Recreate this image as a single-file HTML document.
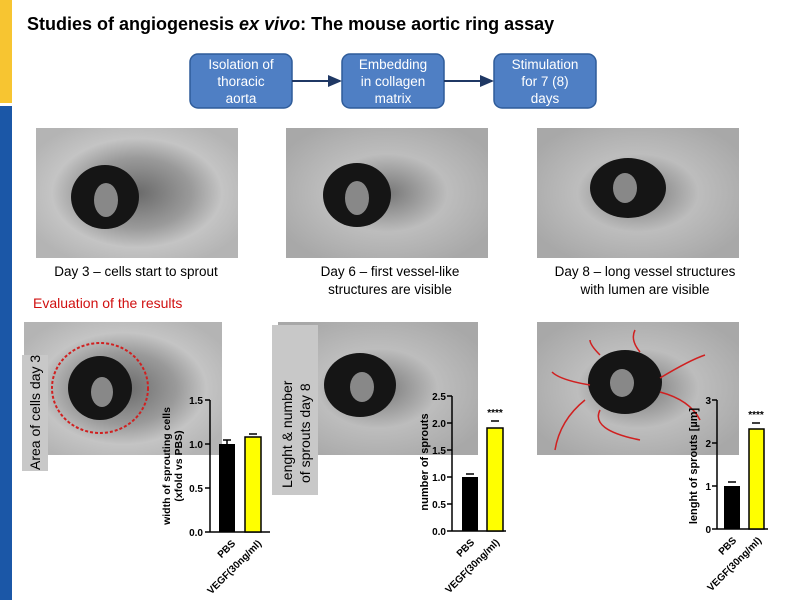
<!DOCTYPE html><html><head><style>body{margin:0}svg{display:block}text{font-family:"Liberation Sans",sans-serif}</style></head><body>
<svg width="800" height="600" xmlns="http://www.w3.org/2000/svg">
<defs>
<radialGradient id="ph" cx="50%" cy="50%" r="60%"><stop offset="0" stop-color="#6a6a6a"/><stop offset="0.45" stop-color="#9a9a9a"/><stop offset="0.7" stop-color="#c4c4c4"/><stop offset="1" stop-color="#b4b4b4"/></radialGradient>
<radialGradient id="ph2" cx="50%" cy="50%" r="60%"><stop offset="0" stop-color="#777"/><stop offset="0.5" stop-color="#bdbdbd"/><stop offset="1" stop-color="#a8a8a8"/></radialGradient>
<marker id="ar" markerWidth="8" markerHeight="8" refX="6" refY="4" orient="auto"><path d="M0,1L7,4L0,7z" fill="#1f3864"/></marker>
</defs>
<rect width="800" height="600" fill="#fff"/>
<rect x="0" y="0" width="12" height="103" fill="#f7c531"/>
<rect x="0" y="106" width="12" height="494" fill="#1b57a7"/>
<text x="27" y="30" font-size="18" font-weight="bold">Studies of angiogenesis <tspan font-style="italic">ex vivo</tspan>: The mouse aortic ring assay</text>
<g font-size="13.5" fill="#fff" text-anchor="middle">
<rect x="190" y="54" width="102" height="54" rx="8" fill="#4f7fc4" stroke="#2f5c9a" stroke-width="1.5"/>
<text x="241" y="69">Isolation of</text><text x="241" y="86">thoracic</text><text x="241" y="103">aorta</text>
<rect x="342" y="54" width="102" height="54" rx="8" fill="#4f7fc4" stroke="#2f5c9a" stroke-width="1.5"/>
<text x="393" y="69">Embedding</text><text x="393" y="86">in collagen</text><text x="393" y="103">matrix</text>
<rect x="494" y="54" width="102" height="54" rx="8" fill="#4f7fc4" stroke="#2f5c9a" stroke-width="1.5"/>
<text x="545" y="69">Stimulation</text><text x="545" y="86">for 7 (8)</text><text x="545" y="103">days</text>
</g>
<line x1="292" y1="81" x2="340" y2="81" stroke="#1f3864" stroke-width="2" marker-end="url(#ar)"/>
<line x1="444" y1="81" x2="492" y2="81" stroke="#1f3864" stroke-width="2" marker-end="url(#ar)"/>
<g>
<rect x="36" y="128" width="202" height="130" fill="url(#ph)"/><ellipse cx="105" cy="197" rx="34" ry="32" fill="#151515"/><ellipse cx="106" cy="200" rx="12" ry="17" fill="#888"/>
<rect x="286" y="128" width="202" height="130" fill="url(#ph2)"/><ellipse cx="357" cy="195" rx="34" ry="32" fill="#151515"/><ellipse cx="357" cy="198" rx="12" ry="17" fill="#888"/>
<rect x="537" y="128" width="202" height="130" fill="url(#ph2)"/><ellipse cx="628" cy="188" rx="38" ry="30" fill="#151515"/><ellipse cx="625" cy="188" rx="12" ry="15" fill="#888"/>
</g>
<g font-size="13.5" text-anchor="middle">
<text x="136" y="276">Day 3 – cells start to sprout</text>
<text x="390" y="276">Day 6 – first vessel-like</text><text x="390" y="294">structures are visible</text>
<text x="645" y="276">Day 8 – long vessel structures</text><text x="645" y="294">with lumen are visible</text>
</g>
<text x="33" y="308" font-size="14" fill="#d01010">Evaluation of the results</text>
<rect x="24" y="322" width="198" height="133" fill="url(#ph)"/><ellipse cx="100" cy="388" rx="48" ry="45" fill="none" stroke="#d02020" stroke-width="2" stroke-dasharray="3 2"/><ellipse cx="100" cy="388" rx="32" ry="32" fill="#151515"/><ellipse cx="102" cy="392" rx="11" ry="15" fill="#888"/>
<rect x="278" y="322" width="200" height="133" fill="url(#ph2)"/><ellipse cx="360" cy="385" rx="36" ry="32" fill="#151515"/><ellipse cx="362" cy="387" rx="12" ry="15" fill="#888"/>
<rect x="537" y="322" width="202" height="133" fill="url(#ph2)"/><ellipse cx="625" cy="382" rx="37" ry="32" fill="#151515"/><ellipse cx="622" cy="383" rx="12" ry="14" fill="#888"/>
<g stroke="#d02020" stroke-width="1.5" fill="none"><path d="M590,385 Q560,380 552,372 M585,400 Q560,420 555,450 M600,410 Q590,430 640,440 M660,378 Q690,360 705,355 M660,392 Q690,400 700,420 M640,352 Q630,340 635,330 M600,355 Q590,345 590,340"/></g>
<rect x="22" y="355" width="26" height="116" fill="#c8c8c8"/>
<text transform="translate(40,470) rotate(-90)" font-size="14">Area of cells day 3</text>
<rect x="272" y="325" width="46" height="170" fill="#c8c8c8"/>
<text transform="translate(292,488) rotate(-90)" font-size="14">Lenght &amp; number</text>
<text transform="translate(310,483) rotate(-90)" font-size="14">of sprouts day 8</text>
<g font-size="10" font-weight="bold" stroke-width="1.5">
<line x1="210" y1="400" x2="210" y2="532" stroke="#000"/><line x1="210" y1="532" x2="270" y2="532" stroke="#000"/>
<g stroke="#000"><line x1="205" y1="400" x2="210" y2="400"/><line x1="205" y1="444" x2="210" y2="444"/><line x1="205" y1="488" x2="210" y2="488"/><line x1="205" y1="532" x2="210" y2="532"/></g>
<g text-anchor="end"><text x="203" y="404">1.5</text><text x="203" y="448">1.0</text><text x="203" y="492">0.5</text><text x="203" y="536">0.0</text></g>
<rect x="219" y="444" width="16" height="88" fill="#000"/><line x1="227" y1="444" x2="227" y2="440" stroke="#000"/><line x1="223" y1="440" x2="231" y2="440" stroke="#000"/>
<rect x="245" y="437" width="16" height="95" fill="#ff0" stroke="#000"/><line x1="249" y1="434" x2="257" y2="434" stroke="#000"/>
<text transform="translate(170,466) rotate(-90)" font-size="10.5" text-anchor="middle">width of sprouting cells</text>
<text transform="translate(182,466) rotate(-90)" font-size="10.5" text-anchor="middle">(xfold vs PBS)</text>
<text transform="translate(236,544) rotate(-45)" text-anchor="end">PBS</text>
<text transform="translate(262,544) rotate(-45)" text-anchor="end">VEGF(30ng/ml)</text>
</g>
<g font-size="10" font-weight="bold" stroke-width="1.5">
<line x1="452" y1="396" x2="452" y2="531" stroke="#000"/><line x1="452" y1="531" x2="506" y2="531" stroke="#000"/>
<g stroke="#000"><line x1="447" y1="396" x2="452" y2="396"/><line x1="447" y1="423" x2="452" y2="423"/><line x1="447" y1="450" x2="452" y2="450"/><line x1="447" y1="477" x2="452" y2="477"/><line x1="447" y1="504" x2="452" y2="504"/><line x1="447" y1="531" x2="452" y2="531"/></g>
<g text-anchor="end"><text x="446" y="400">2.5</text><text x="446" y="427">2.0</text><text x="446" y="454">1.5</text><text x="446" y="481">1.0</text><text x="446" y="508">0.5</text><text x="446" y="535">0.0</text></g>
<rect x="462" y="477" width="16" height="54" fill="#000"/><line x1="466" y1="474" x2="474" y2="474" stroke="#000"/>
<rect x="487" y="428" width="16" height="103" fill="#ff0" stroke="#000"/><line x1="491" y1="421" x2="499" y2="421" stroke="#000"/>
<text x="495" y="416" text-anchor="middle">****</text>
<text transform="translate(428,462) rotate(-90)" font-size="11" text-anchor="middle">number of sprouts</text>
<text transform="translate(475,543) rotate(-45)" text-anchor="end">PBS</text>
<text transform="translate(500,543) rotate(-45)" text-anchor="end">VEGF(30ng/ml)</text>
</g>
<g font-size="10" font-weight="bold" stroke-width="1.5">
<line x1="717" y1="400" x2="717" y2="529" stroke="#000"/><line x1="717" y1="529" x2="768" y2="529" stroke="#000"/>
<g stroke="#000"><line x1="712" y1="400" x2="717" y2="400"/><line x1="712" y1="443" x2="717" y2="443"/><line x1="712" y1="486" x2="717" y2="486"/><line x1="712" y1="529" x2="717" y2="529"/></g>
<g text-anchor="end"><text x="711" y="404">3</text><text x="711" y="447">2</text><text x="711" y="490">1</text><text x="711" y="533">0</text></g>
<rect x="724" y="486" width="16" height="43" fill="#000"/><line x1="728" y1="482" x2="736" y2="482" stroke="#000"/>
<rect x="749" y="429" width="15" height="100" fill="#ff0" stroke="#000"/><line x1="752" y1="423" x2="760" y2="423" stroke="#000"/>
<text x="756" y="418" text-anchor="middle">****</text>
<text transform="translate(697,466) rotate(-90)" font-size="11" text-anchor="middle">lenght of sprouts [µm]</text>
<text transform="translate(737,541) rotate(-45)" text-anchor="end">PBS</text>
<text transform="translate(762,541) rotate(-45)" text-anchor="end">VEGF(30ng/ml)</text>
</g>
</svg></body></html>
